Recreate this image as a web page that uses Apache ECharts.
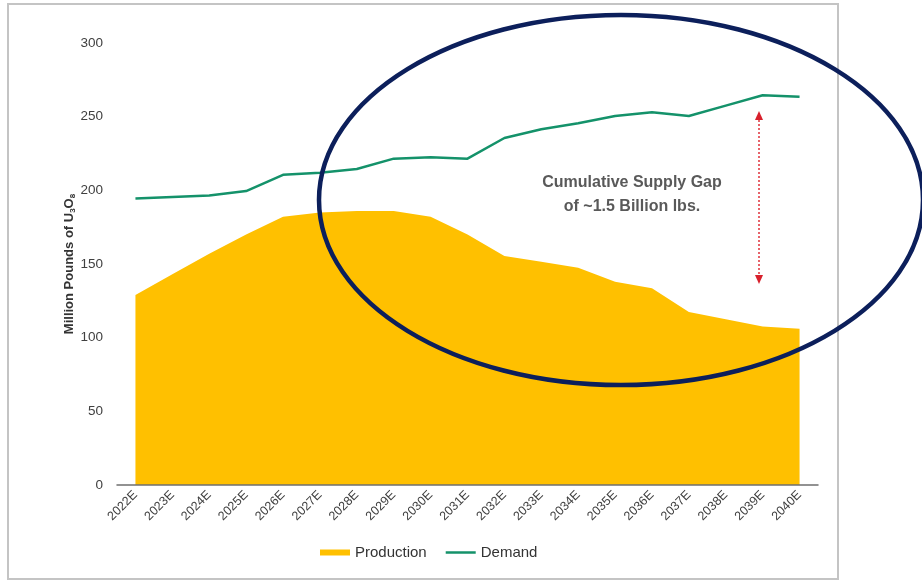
<!DOCTYPE html>
<html>
<head>
<meta charset="utf-8">
<script src="https://cdn.jsdelivr.net/npm/echarts@6/dist/echarts.min.js"></script>
<style>
  html, body { margin: 0; padding: 0; background: #fff; }
  #chart { width: 922px; height: 581px; }
</style>
</head>
<body>
<div id="chart"></div>
<script>
// years on the x axis
const years = ['2022E', '2023E', '2024E', '2025E', '2026E', '2027E', '2028E', '2029E', '2030E', '2031E',
  '2032E', '2033E', '2034E', '2035E', '2036E', '2037E', '2038E', '2039E', '2040E'];
// million lbs U3O8
const production = [129, 143, 157, 170, 182, 185, 186, 186, 182, 170, 155.5, 151.5, 147.5, 138, 133.5, 117.5, 112.5, 107.5, 106];
const demand = [194.5, 195.5, 196.5, 199.5, 210.5, 212, 214.5, 221.5, 222.5, 221.5, 235.5, 241.5, 245.5, 250.5, 253, 250.5, 257.5, 264.5, 263.5];
const yTicks = { min: 0, max: 300, interval: 50 };

const font = 'Liberation Sans, Arial, sans-serif';
const myChart = echarts.init(document.getElementById('chart'));

const option = {
  animation: false,
  grid: { left: 117, right: 104, top: 43, bottom: 96 },
  legend: {
    left: 315,
    top: 540,
    itemWidth: 30,
    itemHeight: 6,
    itemGap: 19,
    textStyle: { fontFamily: font, fontSize: 15, color: '#333' },
    data: [
      { name: 'Production', icon: 'rect' },
      { name: 'Demand', icon: 'path://M0,0H30V2.5H0Z' },
    ],
  },
  xAxis: {
    type: 'category',
    data: years,
    boundaryGap: true,
    z: 5,
    axisTick: { show: false },
    axisLine: { lineStyle: { color: '#6f6f6f', width: 1.5 } },
    axisLabel: { rotate: 45, margin: 8, fontSize: 12.5, fontFamily: font, color: '#404040' },
  },
  yAxis: {
    type: 'value',
    min: yTicks.min,
    max: yTicks.max,
    interval: yTicks.interval,
    splitLine: { show: false },
    axisLine: { show: false },
    axisTick: { show: false },
    axisLabel: { margin: 14, fontSize: 13.5, fontFamily: font, color: '#404040' },
    name: '{a|Million Pounds of U}{s|3}{a|O}{s|8}',
    nameLocation: 'middle',
    nameGap: 40,
    nameMoveOverlap: false,
    nameTextStyle: {
      rich: {
        a: { fontFamily: font, fontSize: 13, fontWeight: 'bold', color: '#333' },
        s: { fontFamily: font, fontSize: 8, fontWeight: 'bold', color: '#333', verticalAlign: 'bottom', padding: [7, 0, 0, 0] },
      },
    },
  },
  series: [
    {
      name: 'Production',
      type: 'line',
      data: production,
      symbol: 'none',
      lineStyle: { width: 0 },
      itemStyle: { color: '#FFC000' },
      areaStyle: { color: '#FFC000', opacity: 1 },
      z: 2,
    },
    {
      name: 'Demand',
      type: 'line',
      data: demand,
      symbol: 'none',
      lineStyle: { width: 2.5, color: '#14926a' },
      itemStyle: { color: '#14926a' },
      z: 3,
    },
  ],
  graphic: [
    {
      type: 'rect',
      shape: { x: 8, y: 4, width: 830, height: 575 },
      style: { fill: 'none', stroke: '#c4c4c4', lineWidth: 2 },
      z: 1,
    },
    {
      type: 'text',
      x: 632,
      y: 195,
      style: {
        text: 'Cumulative Supply Gap\nof ~1.5 Billion lbs.',
        font: 'bold 16px ' + font,
        fill: '#595959',
        align: 'center',
        verticalAlign: 'middle',
        lineHeight: 24,
      },
      z: 20,
    },
    {
      type: 'line',
      shape: { x1: 759, y1: 120, x2: 759, y2: 275 },
      style: { stroke: '#e0303a', lineWidth: 1.5, lineDash: [2, 2] },
      z: 20,
    },
    {
      type: 'polygon',
      shape: { points: [[759, 111], [755, 120], [763, 120]] },
      style: { fill: '#d8202c' },
      z: 20,
    },
    {
      type: 'polygon',
      shape: { points: [[759, 284], [755, 275], [763, 275]] },
      style: { fill: '#d8202c' },
      z: 20,
    },
    {
      type: 'ellipse',
      shape: { cx: 621, cy: 200, rx: 302, ry: 185 },
      style: { fill: 'none', stroke: '#0c1f5b', lineWidth: 4.5 },
      z: 30,
    },
  ],
};

myChart.setOption(option);
</script>
</body>
</html>
